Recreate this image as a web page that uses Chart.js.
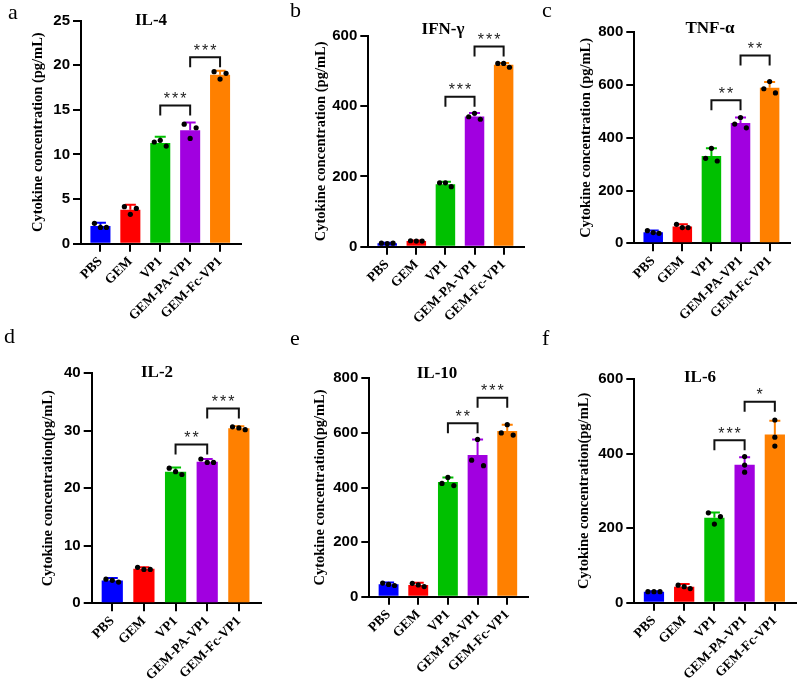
<!DOCTYPE html>
<html>
<head>
<meta charset="utf-8">
<script src="https://cdn.jsdelivr.net/npm/chart.js@4.4.0/dist/chart.umd.min.js"></script>
<style>
  body { margin: 0; background: #fff; }
  #fig { position: relative; width: 800px; height: 689px; overflow: hidden; }
  #fig canvas { position: absolute; }
</style>
</head>
<body>
<div id="fig">
  <canvas id="il4" width="266" height="340" style="left:0;top:0;width:266px;height:340px"></canvas>
  <canvas id="ifng" width="266" height="340" style="left:266px;top:0;width:266px;height:340px"></canvas>
  <canvas id="tnfa" width="268" height="340" style="left:532px;top:0;width:268px;height:340px"></canvas>
  <canvas id="il2" width="266" height="369" style="left:0;top:320px;width:266px;height:369px"></canvas>
  <canvas id="il10" width="266" height="369" style="left:266px;top:320px;width:266px;height:369px"></canvas>
  <canvas id="il6" width="268" height="369" style="left:532px;top:320px;width:268px;height:369px"></canvas>
</div>
<script>
const groups = ['PBS', 'GEM', 'VP1', 'GEM-PA-VP1', 'GEM-Fc-VP1'];
const barColors = ['#0000ff', '#ff0000', '#00c000', '#a100e0', '#ff8000'];

// IL-4
const il4Mean = [1.98, 3.8, 11.3, 12.73, 18.95];
const il4Sd = [0.37, 0.57, 0.7, 0.87, 0.45];
const il4Points = [[2.28, 1.83, 1.83], [4.15, 3.29, 3.96], [11.4, 11.6, 10.95], [13.4, 11.8, 13.0], [19.28, 18.46, 19.1]];
const il4Sig = [[2, 3, 15.5, '***'], [3, 4, 20.9, '***']];
const il4Ticks = [0, 5, 10, 15, 20, 25];

// IFN-γ
const ifngMean = [9.7, 16.3, 178, 371, 518];
const ifngSd = [1.3, 1.7, 7, 10, 5];
const ifngPoints = [[10, 9, 10], [17, 16, 16], [182, 182, 171], [370, 380, 363], [522, 522, 511]];
const ifngSig = [[2, 3, 427, '***'], [3, 4, 570, '***']];
const ifngTicks = [0, 200, 400, 600];

// TNF-α
const tnfaMean = [42, 63.7, 331, 456, 590];
const tnfaSd = [7, 9, 29, 21, 22];
const tnfaPoints = [[48, 40.5, 38], [72, 59.5, 59.5], [322, 360, 312], [452, 477, 438], [586, 613, 570]];
const tnfaSig = [[2, 3, 542, '**'], [3, 4, 712, '**']];
const tnfaTicks = [0, 200, 400, 600, 800];

// IL-2
const il2Mean = [3.95, 6.0, 22.9, 24.6, 30.45];
const il2Sd = [0.45, 0.25, 0.7, 0.5, 0.35];
const il2Points = [[4.2, 4.0, 3.7], [6.25, 5.9, 5.9], [23.5, 22.9, 22.4], [25.1, 24.5, 24.5], [30.7, 30.5, 30.2]];
const il2Sig = [[2, 3, 27.6, '**'], [3, 4, 33.9, '***']];
const il2Ticks = [0, 10, 20, 30, 40];

// IL-10
const il10Mean = [46, 43, 420, 519, 607];
const il10Sd = [6, 8, 17, 57, 23];
const il10Points = [[50, 45, 41], [49, 43, 37], [415, 437, 407], [500, 576, 480], [600, 630, 592]];
const il10Sig = [[2, 3, 635, '**'], [3, 4, 729, '***']];
const il10Ticks = [0, 200, 400, 600, 800];

// IL-6
const il6Mean = [29.5, 43, 228, 370, 451];
const il6Sd = [1.5, 7, 14, 20, 37];
const il6Points = [[29.5, 29.5, 29.5], [47, 43, 38], [241, 211, 231], [392, 369, 350], [490, 444, 420]];
const il6Sig = [[2, 3, 436, '***'], [3, 4, 539, '*']];
const il6Ticks = [0, 200, 400, 600];

const spread = [-0.2, 0, 0.2];
const column = [0, 0, 0];

const panels = [
  { id: 'il4', title: 'IL-4', letter: 'a', yTitle: 'Cytokine concentration (pg/mL)',
    mean: il4Mean, sd: il4Sd, points: il4Points, sig: il4Sig, ticks: il4Ticks,
    w: 266, h: 340, area: { left: 81, top: 20.7, right: 241, bottom: 243.7 },
    yTitleX: 38, titleX: 151, titleY: 20.5, letterX: 8, letterY: 19 },
  { id: 'ifng', title: 'IFN-γ', letter: 'b', yTitle: 'Cytokine concentration (pg/mL)',
    mean: ifngMean, sd: ifngSd, points: ifngPoints, sig: ifngSig, ticks: ifngTicks,
    w: 266, h: 340, area: { left: 102.3, top: 36, right: 258, bottom: 246.7 },
    yTitleX: 55.7, titleX: 177, titleY: 30, letterX: 24, letterY: 17 },
  { id: 'tnfa', title: 'TNF-α', letter: 'c', yTitle: 'Cytokine concentration (pg/mL)',
    mean: tnfaMean, sd: tnfaSd, points: tnfaPoints, sig: tnfaSig, ticks: tnfaTicks,
    w: 268, h: 340, area: { left: 102.3, top: 32.3, right: 258, bottom: 243.3 },
    yTitleX: 54.7, titleX: 178, titleY: 29, letterX: 10, letterY: 17 },
  { id: 'il2', title: 'IL-2', letter: 'd', yTitle: 'Cytokine concentration(pg/mL)',
    mean: il2Mean, sd: il2Sd, points: il2Points, sig: il2Sig, ticks: il2Ticks,
    w: 266, h: 369, area: { left: 91.7, top: 53.3, right: 261, bottom: 283.3 },
    yTitleX: 48.3, titleX: 157, titleY: 53, letterX: 4, letterY: 23 },
  { id: 'il10', title: 'IL-10', letter: 'e', yTitle: 'Cytokine concentration(pg/mL)',
    mean: il10Mean, sd: il10Sd, points: il10Points, sig: il10Sig, ticks: il10Ticks,
    w: 266, h: 369, area: { left: 103.3, top: 58.3, right: 264, bottom: 276.7 },
    yTitleX: 54, titleX: 171, titleY: 54, letterX: 24, letterY: 25 },
  { id: 'il6', title: 'IL-6', letter: 'f', yTitle: 'Cytokine concentration(pg/mL)',
    mean: il6Mean, sd: il6Sd, points: il6Points, sig: il6Sig, ticks: il6Ticks,
    w: 268, h: 369, area: { left: 102.3, top: 59, right: 265, bottom: 282.7 },
    yTitleX: 52.3, titleX: 168, titleY: 57.5, letterX: 10, letterY: 25,
    jitter: [spread, spread, spread, column, column] }
];

// error bars, brackets, titles and panel letters
function decor(p) {
  return {
    id: 'decor',
    afterDatasetDraw(chart, args) {
      if (args.index !== 0) return;
      const { ctx, scales: { x, y } } = chart;
      ctx.save();
      ctx.lineWidth = 2;
      p.mean.forEach((m, i) => {
        const px = x.getPixelForValue(i);
        const y0 = y.getPixelForValue(m);
        const y1 = y.getPixelForValue(m + p.sd[i]);
        ctx.strokeStyle = barColors[i];
        ctx.beginPath();
        ctx.moveTo(px, y0);
        ctx.lineTo(px, y1);
        ctx.moveTo(px - 5.5, y1);
        ctx.lineTo(px + 5.5, y1);
        ctx.stroke();
      });
      ctx.restore();
    },
    afterDraw(chart) {
      const { ctx, scales: { x, y } } = chart;
      ctx.save();
      // significance brackets
      ctx.lineWidth = 2;
      ctx.strokeStyle = '#111';
      ctx.fillStyle = '#222';
      ctx.font = '16px "Liberation Sans"';
      ctx.letterSpacing = '2px';
      ctx.textAlign = 'center';
      ctx.textBaseline = 'middle';
      p.sig.forEach(([a, b, v, stars]) => {
        const x1 = x.getPixelForValue(a), x2 = x.getPixelForValue(b);
        const yy = y.getPixelForValue(v);
        ctx.beginPath();
        ctx.moveTo(x1, yy + 10);
        ctx.lineTo(x1, yy);
        ctx.lineTo(x2, yy);
        ctx.lineTo(x2, yy + 10);
        ctx.stroke();
        ctx.fillText(stars, (x1 + x2) / 2 + 1, yy - 6);
      });
      ctx.letterSpacing = '0px';
      // chart title
      ctx.fillStyle = '#000';
      ctx.font = 'bold 17px "Liberation Serif"';
      ctx.fillText(p.title, p.titleX, p.titleY);
      // panel letter
      ctx.font = '22px "Liberation Serif"';
      ctx.textAlign = 'left';
      ctx.textBaseline = 'alphabetic';
      ctx.fillText(p.letter, p.letterX, p.letterY);
      ctx.restore();
    }
  };
}

function drawPanel(p) {
  const ctx = document.getElementById(p.id).getContext('2d');
  const jitter = p.jitter || p.mean.map(() => spread);
  const dots = [];
  p.points.forEach((vals, i) => vals.forEach((v, k) => dots.push({ x: i + jitter[i][k], y: v })));

  return new Chart(ctx, {
    type: 'bar',
    data: {
      datasets: [{
        data: p.mean.map((v, i) => ({ x: i, y: v })),
        backgroundColor: barColors,
        borderWidth: 0,
        barPercentage: 0.67,
        categoryPercentage: 1,
        order: 2
      }, {
        type: 'scatter',
        data: dots,
        pointRadius: 2.6,
        pointBackgroundColor: '#000',
        pointBorderWidth: 0,
        order: 1
      }]
    },
    options: {
      responsive: false,
      animation: false,
      events: [],
      layout: { padding: { left: 0, top: p.area.top, right: p.w - p.area.right, bottom: 0 } },
      plugins: { legend: { display: false }, tooltip: { enabled: false } },
      scales: {
        x: {
          type: 'linear',
          min: -0.65,
          max: 4.7,
          offset: false,
          afterBuildTicks: s => { s.ticks = groups.map((g, i) => ({ value: i })); },
          afterFit: s => { s.height = p.h - p.area.bottom; },
          grid: { drawOnChartArea: false, offset: false, tickLength: 8, lineWidth: 2, color: '#000' },
          border: { color: '#000', width: 2 },
          ticks: {
            autoSkip: false,
            minRotation: 45,
            maxRotation: 45,
            padding: 2,
            color: '#000',
            font: { family: 'Liberation Serif', size: 13.5, weight: 'bold' },
            callback: v => groups[v]
          }
        },
        y: {
          min: 0,
          max: p.ticks[p.ticks.length - 1],
          afterBuildTicks: s => { s.ticks = p.ticks.map(v => ({ value: v })); },
          afterFit: s => { s.width = p.area.left; },
          grid: { drawOnChartArea: false, tickLength: 8, lineWidth: 2, color: '#000' },
          border: { color: '#000', width: 2 },
          ticks: {
            padding: 3,
            color: '#000',
            font: { family: 'Liberation Sans', size: 15, weight: 'bold' }
          },
          title: {
            display: true,
            text: p.yTitle,
            color: '#000',
            font: { family: 'Liberation Serif', size: 14.5, weight: 'bold' },
            padding: { top: p.yTitleX - 8.7, bottom: 0 }
          }
        }
      }
    },
    plugins: [decor(p)]
  });
}

panels.forEach(drawPanel);
</script>
</body>
</html>
